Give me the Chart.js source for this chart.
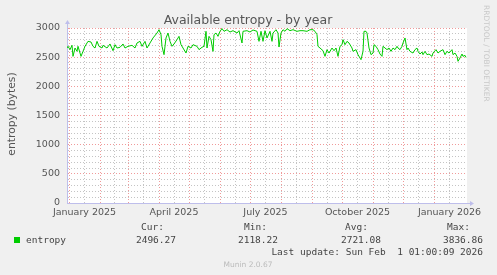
<!DOCTYPE html>
<html>
<head>
<meta charset="utf-8">
<script src="https://cdn.jsdelivr.net/npm/chart.js@4"></script>
<style>
  html, body { margin: 0; padding: 0; background: #f0f0f0; }
  #wrap { width: 497px; height: 275px; }
</style>
</head>
<body>
<div id="wrap"><canvas id="entropy_year"></canvas></div>
<script>
// days counted from 1 January 2025
const dayOffsets = [
  -2, -1, 1, 3, 4, 6, 8, 9, 12, 14, 16, 19, 22, 24, 26, 28, 30, 33, 34, 38,
  41, 44, 46, 48, 51, 54, 56, 59, 63, 66, 68, 71, 73, 76, 78, 81, 84, 88, 90, 92,
  93, 95, 97, 99, 101, 103, 105, 108, 110, 112, 114, 117, 119, 122, 124, 128, 130, 133, 135, 137,
  138, 140, 142, 144, 145, 147, 149, 151, 153, 155, 158, 161, 164, 168, 170, 173, 174, 178, 181, 184,
  188, 190, 192, 194, 196, 198, 201, 203, 204, 207, 209, 210, 212, 214, 216, 218, 221, 224, 228, 231,
  234, 238, 241, 244, 246, 248, 249, 251, 254, 256, 258, 260, 263, 265, 267, 269, 271, 273, 274, 276,
  278, 280, 283, 284, 287, 289, 292, 294, 295, 297, 298, 300, 302, 304, 305, 307, 309, 311, 313, 314,
  316, 318, 320, 322, 324, 326, 328, 329, 331, 333, 334, 336, 338, 339, 341, 344, 346, 348, 349, 351,
  353, 354, 356, 358, 360, 363, 364, 367, 369, 371, 374, 376, 378, 380, 383, 384, 386, 388, 389, 391,
  393, 394, 396, 397
];
const entropy = [
  2657, 2686, 2629, 2703, 2514, 2657, 2600, 2686, 2514, 2600, 2686, 2771, 2760, 2686, 2657, 2771, 2686, 2657, 2703, 2657,
  2726, 2611, 2714, 2657, 2669, 2726, 2657, 2686, 2703, 2657, 2743, 2771, 2686, 2771, 2657, 2743, 2829, 2914, 2971, 2886,
  2686, 2543, 2829, 2914, 2771, 2686, 2726, 2800, 2857, 2714, 2657, 2571, 2686, 2657, 2714, 2686, 2629, 2669, 2686, 2943,
  2657, 2857, 2800, 2600, 2886, 2914, 2857, 2943, 2989, 2943, 2971, 2931, 2954, 2914, 2954, 2743, 2943, 2954, 2931, 2966,
  2943, 2771, 2943, 2771, 2954, 2829, 2943, 2771, 2914, 2971, 2914, 2674, 2914, 2971, 2943, 2989, 2954, 2971, 2943, 2954,
  2954, 2943, 2971, 2971, 2943, 2886, 2686, 2657, 2611, 2514, 2629, 2571, 2657, 2611, 2657, 2514, 2686, 2714, 2800, 2714,
  2771, 2743, 2657, 2600, 2629, 2543, 2457, 2600, 2943, 2943, 2914, 2657, 2543, 2571, 2714, 2686, 2629, 2554, 2514, 2686,
  2657, 2629, 2657, 2600, 2657, 2629, 2686, 2657, 2629, 2686, 2743, 2829, 2629, 2657, 2600, 2571, 2629, 2657, 2600, 2554,
  2589, 2543, 2600, 2543, 2554, 2514, 2571, 2629, 2571, 2600, 2629, 2543, 2600, 2571, 2629, 2543, 2571, 2514, 2429, 2486,
  2554, 2514, 2531, 2496
];

// grid: month starts (major) and middles (minor, carry the labels)
const monthStarts = [0, 31, 59, 90, 120, 151, 181, 212, 243, 273, 304, 334, 365];
const monthMiddles = [15.5, 45, 74.5, 105, 135.5, 166, 196.5, 227.5, 258, 288.5, 319, 349.5, 380.5];
const monthLabels = { 15.5: 'January 2025', 105: 'April 2025', 196.5: 'July 2025', 288.5: 'October 2025', 380.5: 'January 2026' };

const legendStats = ['2496.27', '2118.22', '2721.08', '3836.86'];
const statHeads = ['Cur:', 'Min:', 'Avg:', 'Max:'];

const majorGrid = 'rgba(235,120,120,0.75)';
const minorGrid = 'rgba(190,190,190,0.9)';
const axisColor = 'rgb(190,190,235)';

const muninDecor = {
  id: 'muninDecor',
  beforeDraw(chart) {
    const { ctx, chartArea: a } = chart;
    ctx.save();
    ctx.fillStyle = '#f0f0f0';
    ctx.fillRect(0, 0, chart.width, chart.height);
    ctx.fillStyle = '#ffffff';
    ctx.fillRect(a.left, a.top, a.right - a.left, a.bottom - a.top);
    ctx.restore();
  },
  afterDraw(chart) {
    const { ctx, chartArea: a } = chart;
    ctx.save();

    // axis arrows
    ctx.strokeStyle = axisColor;
    ctx.fillStyle = axisColor;
    ctx.lineWidth = 1;
    ctx.beginPath();
    ctx.moveTo(a.left + 0.5, a.top);
    ctx.lineTo(a.left + 0.5, a.top - 5);
    ctx.moveTo(a.right, a.bottom + 0.5);
    ctx.lineTo(a.right + 4, a.bottom + 0.5);
    ctx.stroke();
    ctx.beginPath();
    ctx.moveTo(a.left - 2, a.top - 4);
    ctx.lineTo(a.left + 3, a.top - 4);
    ctx.lineTo(a.left + 0.5, a.top - 8);
    ctx.closePath();
    ctx.fill();
    ctx.beginPath();
    ctx.moveTo(a.right + 3, a.bottom - 2);
    ctx.lineTo(a.right + 3, a.bottom + 3);
    ctx.lineTo(a.right + 7, a.bottom + 0.5);
    ctx.closePath();
    ctx.fill();

    // title
    ctx.fillStyle = '#555';
    ctx.font = '12.5px "DejaVu Sans"';
    ctx.textAlign = 'center';
    ctx.textBaseline = 'alphabetic';
    ctx.fillText('Available entropy - by year', 248, 24);

    // vertical axis title
    ctx.save();
    ctx.translate(15, 114);
    ctx.rotate(-Math.PI / 2);
    ctx.font = '10.8px "DejaVu Sans"';
    ctx.fillText('entropy (bytes)', 0, 0);
    ctx.restore();

    // rrdtool credit on the right
    ctx.save();
    ctx.translate(484, 5);
    ctx.rotate(Math.PI / 2);
    ctx.textAlign = 'left';
    ctx.fillStyle = '#c8c8c8';
    ctx.font = '7.5px "DejaVu Sans"';
    ctx.fillText('RRDTOOL / TOBI OETIKER', 0, 0);
    ctx.restore();

    // legend block
    ctx.fillStyle = '#00cc00';
    ctx.fillRect(14, 237, 6, 6);
    ctx.fillStyle = '#444';
    ctx.font = '9.5px "DejaVu Sans Mono"';
    ctx.textAlign = 'left';
    ctx.fillText('entropy', 26, 243);
    const headRight = [164, 267, 368, 470];
    const valRight = [176, 278, 381, 483];
    ctx.textAlign = 'right';
    statHeads.forEach((h, i) => ctx.fillText(h, headRight[i], 230));
    legendStats.forEach((v, i) => ctx.fillText(v, valRight[i], 243));
    ctx.fillText('Last update: Sun Feb  1 01:00:09 2026', 483, 255);

    // watermark
    ctx.textAlign = 'center';
    ctx.fillStyle = '#bbbbbb';
    ctx.font = '7.5px "DejaVu Sans"';
    ctx.fillText('Munin 2.0.67', 248, 267);

    ctx.restore();
  }
};

document.addEventListener('DOMContentLoaded', function () {
    const ctx = document.getElementById('entropy_year').getContext('2d');
    const points = dayOffsets.map((d, i) => ({ x: d, y: entropy[i] }));
    const xTicks = monthStarts.concat(monthMiddles).sort((p, q) => p - q);

    new Chart(ctx, {
        type: 'line',
        data: {
            datasets: [{
                label: 'entropy',
                data: points,
                borderColor: '#00cc00',
                borderWidth: 1,
                pointRadius: 0,
                tension: 0,
                fill: false
            }]
        },
        options: {
            responsive: true,
            maintainAspectRatio: false,
            animation: false,
            events: [],
            layout: { padding: { left: 0, right: 30, top: 28, bottom: 0 } },
            plugins: {
                legend: { display: false },
                title: { display: false },
                tooltip: { enabled: false }
            },
            scales: {
                x: {
                    type: 'linear',
                    min: -2,
                    max: 398,
                    afterFit: s => { s.height = 72; },
                    afterBuildTicks: s => { s.ticks = xTicks.map(v => ({ value: v })); },
                    grid: {
                        drawTicks: false,
                        lineWidth: 1,
                        color: c => monthStarts.includes(c.tick.value) ? majorGrid : minorGrid
                    },
                    border: { color: axisColor, width: 1, dash: [1, 2] },
                    ticks: {
                        autoSkip: false,
                        maxRotation: 0,
                        padding: 4,
                        color: '#555',
                        font: { family: 'DejaVu Sans', size: 9.5 },
                        callback: v => monthLabels[v] || ''
                    }
                },
                y: {
                    min: 0,
                    max: 3000,
                    afterFit: s => { s.width = 67; },
                    grid: {
                        drawTicks: false,
                        lineWidth: 1,
                        color: c => c.tick.value % 500 === 0 ? majorGrid : minorGrid
                    },
                    border: { color: axisColor, width: 1, dash: [1, 2] },
                    ticks: {
                        stepSize: 100,
                        autoSkip: false,
                        padding: 7,
                        color: '#555',
                        font: { family: 'DejaVu Sans', size: 9.5 },
                        callback: v => v % 500 === 0 ? String(v) : ''
                    }
                }
            }
        },
        plugins: [muninDecor]
    });
});
</script>
</body>
</html>
